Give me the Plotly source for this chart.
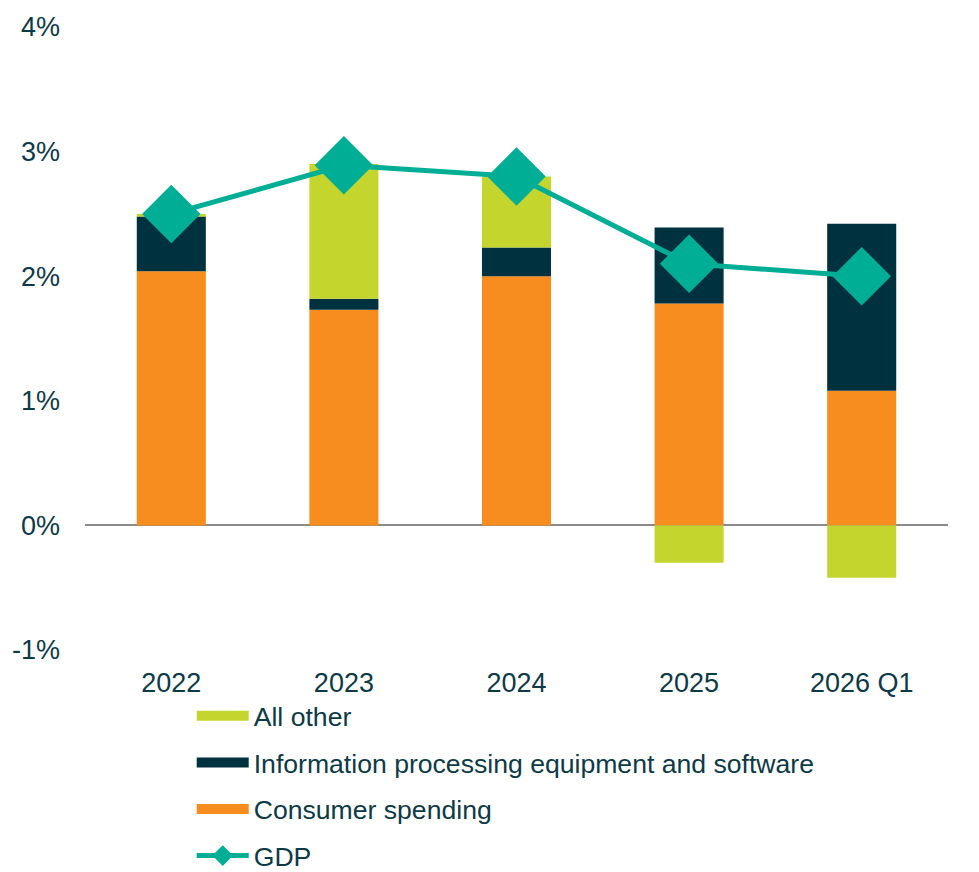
import plotly.graph_objects as go

years = ["2022", "2023", "2024", "2025", "2026 Q1"]
consumer = [2.04, 1.73, 2.00, 1.78, 1.08]
info_proc = [0.44, 0.09, 0.23, 0.61, 1.34]
all_other = [0.02, 1.08, 0.57, -0.30, -0.42]
gdp = [2.50, 2.89, 2.80, 2.10, 2.00]

y_ticks = [-1, 0, 1, 2, 3, 4]
y_labels = ["-1%", "0%", "1%", "2%", "3%", "4%"]

TEXT = "#0d3a47"
FONT = "Liberation Sans, Arial, sans-serif"
C_CONS = "#f78d1e"
C_INFO = "#00313f"
C_OTHER = "#c4d62e"
C_GDP = "#00ae96"

fig = go.Figure()
fig.add_trace(go.Bar(x=years, y=consumer, name="Consumer spending",
                     marker_color=C_CONS, marker_line_width=0, showlegend=False))
fig.add_trace(go.Bar(x=years, y=info_proc, name="Information processing equipment and software",
                     marker_color=C_INFO, marker_line_width=0, showlegend=False))
fig.add_trace(go.Bar(x=years, y=all_other, name="All other",
                     marker_color=C_OTHER, marker_line_width=0, showlegend=False))
fig.add_trace(go.Scatter(x=years, y=gdp, name="GDP", mode="lines+markers",
                         line=dict(color=C_GDP, width=5),
                         marker=dict(symbol="diamond", size=45, color=C_GDP),
                         legendrank=4, legendgroup="g"))

# legend swatches drawn as wide bands, like the original
for name, col, rank in [("All other", C_OTHER, 1),
                        ("Information processing equipment and software", C_INFO, 2),
                        ("Consumer spending", C_CONS, 3)]:
    fig.add_trace(go.Scatter(x=[None], y=[None], mode="lines", name=name,
                             line=dict(color=col, width=14),
                             legendrank=rank, legendgroup=name))

# page body has an 8px margin, so the figure is 8px smaller each way
fig.update_layout(
    width=971, height=864,
    barmode="relative", bargap=0.6,
    plot_bgcolor="white", paper_bgcolor="white",
    margin=dict(l=77, r=31, t=19, b=222, autoexpand=False),
    font=dict(family=FONT, size=27, color=TEXT),
    showlegend=True,
    legend=dict(orientation="v", xref="container", yref="container",
                x=0.1892, y=0.2083, xanchor="left", yanchor="top",
                traceorder="grouped", tracegroupgap=9, itemwidth=52,
                font=dict(family=FONT, size=26.6, color=TEXT),
                bgcolor="rgba(0,0,0,0)"),
)
fig.update_xaxes(showgrid=False, showline=False, ticks="", ticklabelstandoff=14,
                 tickfont=dict(size=27, color=TEXT))
fig.update_yaxes(range=[-1, 4], tickvals=y_ticks, ticktext=y_labels,
                 showgrid=False, showline=False, zeroline=True,
                 zerolinecolor="#8c8c8c", zerolinewidth=2,
                 ticklabelstandoff=24, tickfont=dict(size=27, color=TEXT))

fig.write_html("out.html")
